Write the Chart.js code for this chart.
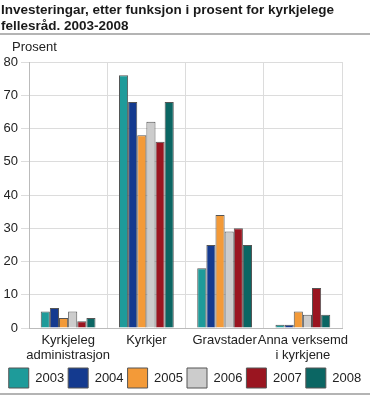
<!DOCTYPE html>
<html>
<head>
<meta charset="utf-8">
<script src="https://cdn.jsdelivr.net/npm/chart.js@4/dist/chart.umd.min.js"></script>
<style>
  body { margin: 0; background: #fff; }
  #wrap { position: relative; width: 370px; height: 395px; }
  #title {
    position: absolute; left: 1px; top: 2px; width: 368px;
    font: bold 13.5px "Liberation Sans", Arial, sans-serif; line-height: 16px; color: #1a1a1a;
  }
  #unit {
    position: absolute; left: 12px; top: 39px;
    font: 13px "Liberation Sans", Arial, sans-serif; color: #222;
  }
  .rule { position: absolute; left: 0; width: 370px; height: 2px; background: #b4b4b4; }
  canvas { position: absolute; left: 0; top: 0; }
</style>
</head>
<body>
<div id="wrap">
  <canvas id="chart" width="370" height="395"></canvas>
  <div id="title">Investeringar, etter funksjon i prosent for kyrkjelege fellesråd. 2003-2008</div>
  <div id="unit">Prosent</div>
  <div class="rule" style="top:33px"></div>
  <div class="rule" style="top:393px"></div>
</div>
<script>
const categories = [
    ['Kyrkjeleg', 'administrasjon'],
    'Kyrkjer',
    'Gravstader',
    ['Anna verksemd', 'i kyrkjene']
];
const years = ['2003', '2004', '2005', '2006', '2007', '2008'];
const values2003 = [5, 76, 18, 1];
const values2004 = [6, 68, 25, 1];
const values2005 = [3, 58, 34, 5];
const values2006 = [5, 62, 29, 4];
const values2007 = [2, 56, 30, 12];
const values2008 = [3, 68, 25, 4];
const colours = ['#1e9b9a', '#143a8f', '#f39a38', '#cccccc', '#9a1520', '#0b6663'];

const allValues = [values2003, values2004, values2005, values2006, values2007, values2008];
const font = { family: 'Arial, "Liberation Sans", sans-serif', size: 13, lineHeight: 1.15 };

const chart = new Chart(document.getElementById('chart'), {
    type: 'bar',
    data: {
        labels: categories,
        datasets: years.map((y, i) => ({
            label: y,
            data: allValues[i],
            backgroundColor: colours[i],
            borderColor: '#555',
            borderWidth: 1,
            categoryPercentage: 0.7,
            barPercentage: 1
        }))
    },
    options: {
        responsive: false,
        animation: false,
        layout: { padding: { top: 62, left: 4, right: 4, bottom: -3 } },
        plugins: {
            legend: {
                position: 'bottom',
                labels: {
                    color: '#222',
                    font: { family: font.family, size: 13 },
                    boxWidth: 20,
                    boxHeight: 20,
                    padding: 4
                }
            },
            tooltip: { enabled: false }
        },
        scales: {
            x: {
                grid: { color: '#dcdcdc', offset: true, drawTicks: false },
                border: { color: '#bbb' },
                ticks: { color: '#222', font: font, maxRotation: 0, autoSkip: false, padding: 5 },
                afterFit: (scale) => { scale.height = 36; }
            },
            y: {
                min: 0,
                max: 80,
                grid: { color: '#dcdcdc' },
                border: { color: '#bbb' },
                ticks: { stepSize: 10, color: '#222', font: font, padding: 3 },
                afterFit: (scale) => { scale.width = 25; }
            },
            yRight: {
                position: 'right',
                min: 0,
                max: 80,
                grid: { display: false },
                border: { display: false },
                ticks: { display: false },
                afterFit: (scale) => { scale.width = 24; }
            }
        }
    }
});
</script>
</body>
</html>
